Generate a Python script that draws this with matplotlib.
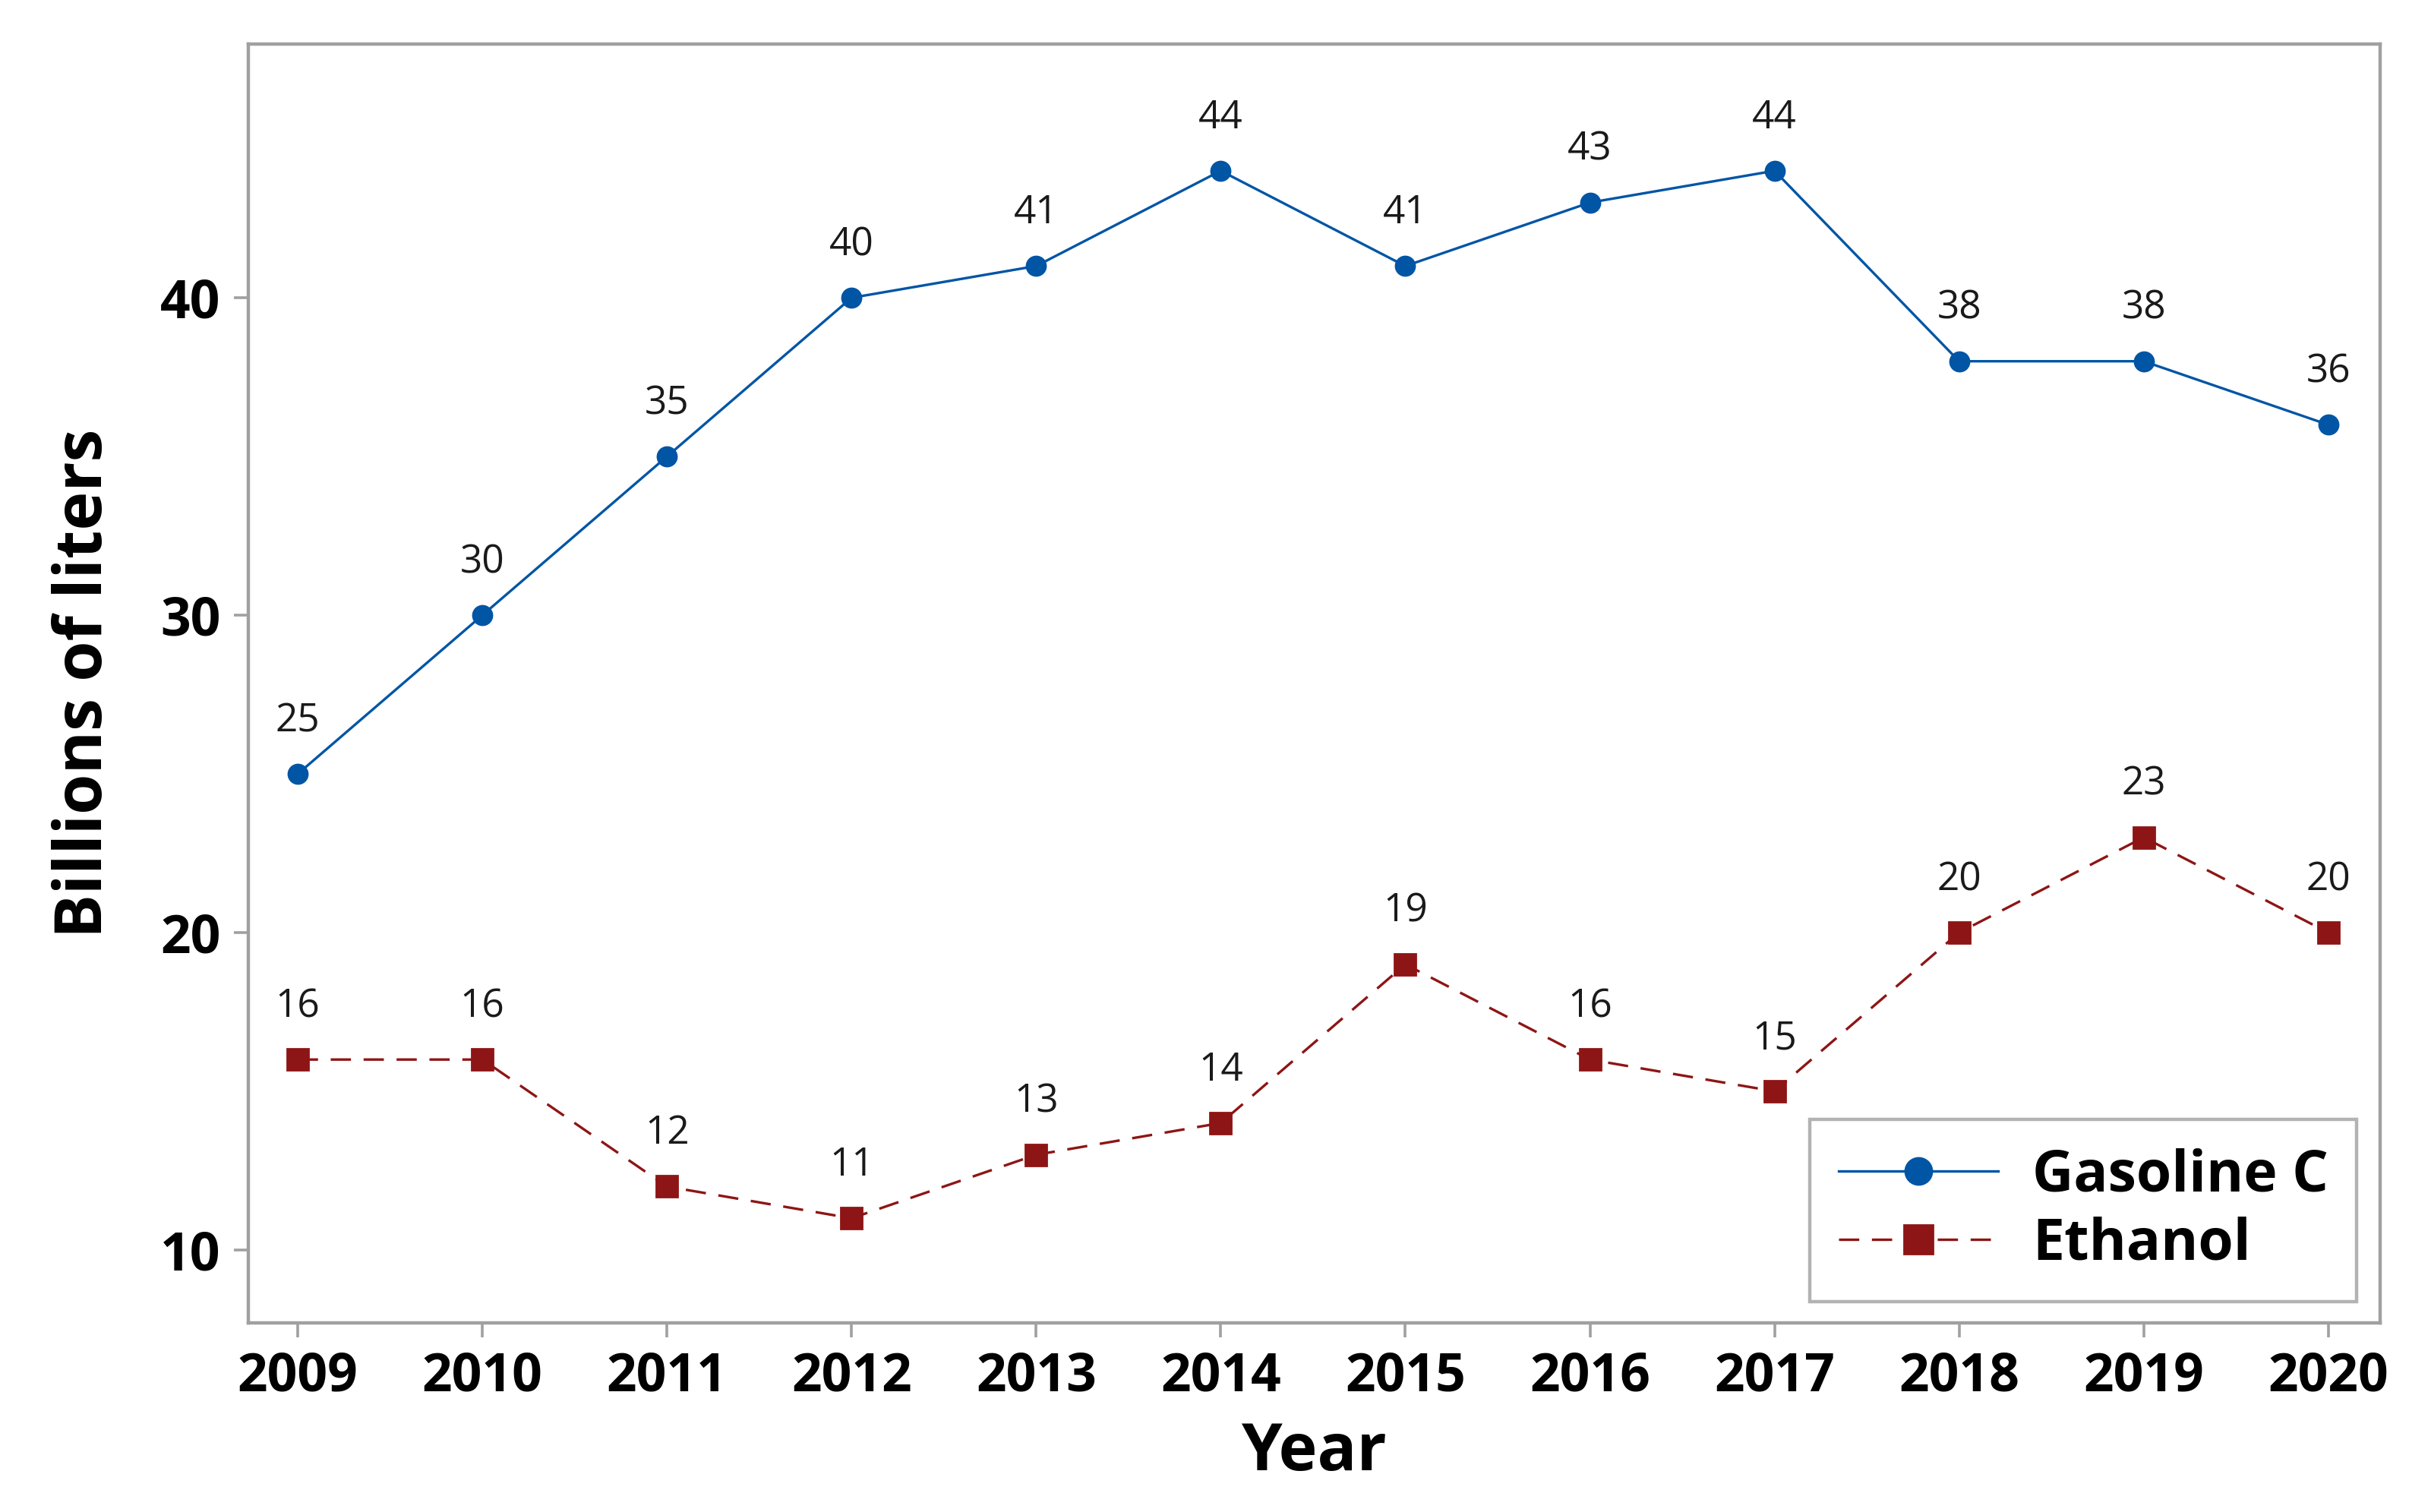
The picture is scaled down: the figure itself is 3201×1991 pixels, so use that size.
import matplotlib
matplotlib.use("Agg")
import matplotlib.pyplot as plt

years = [2009, 2010, 2011, 2012, 2013, 2014, 2015, 2016, 2017, 2018, 2019, 2020]
gasoline = [25, 30, 35, 40, 41, 44, 41, 43, 44, 38, 38, 36]
ethanol = [16, 16, 12, 11, 13, 14, 19, 16, 15, 20, 23, 20]
yticks = [10, 20, 30, 40]

plt.rcParams['font.family'] = ['Open Sans', 'DejaVu Sans']

blue = '#0055A5'
red = '#8E1515'
grey = '#A0A0A0'

fig = plt.figure(figsize=(16.005, 9.955), dpi=200)
ax = fig.add_axes([0.102, 0.125, 0.877, 0.846])

ax.plot(years, gasoline, color=blue, lw=1.2, marker='o', ms=9, label='Gasoline C')
ax.plot(years, ethanol, color=red, lw=1.2, ls=(0, (8, 5)), marker='s', ms=10, label='Ethanol')

for x, y in zip(years, gasoline):
    ax.annotate(str(y), (x, y), xytext=(0, 25), textcoords='offset points',
                ha='center', va='center', fontsize=18.5, color='#1a1a1a')
for x, y in zip(years, ethanol):
    ax.annotate(str(y), (x, y), xytext=(0, 25), textcoords='offset points',
                ha='center', va='center', fontsize=18.5, color='#1a1a1a')

ax.set_xlim(2008.73, 2020.28)
ax.set_ylim(7.7, 48)
ax.set_xticks(years)
ax.set_xticklabels([str(y) for y in years], fontsize=25, fontweight='bold')
ax.set_yticks(yticks)
ax.set_yticklabels([str(v) for v in yticks], fontsize=25, fontweight='bold')

for s in ax.spines.values():
    s.set_color(grey)
    s.set_linewidth(1.6)
ax.tick_params(direction='out', length=7, width=1.3, color=grey, pad=6)

ax.set_xlabel('Year', fontsize=31, fontweight='bold', labelpad=8)
ax.set_ylabel('Billions of liters', fontsize=31, fontweight='bold', labelpad=20)

leg = ax.legend(loc='lower right', bbox_to_anchor=(0.9972, 0.0035), fontsize=27,
                frameon=True, fancybox=False, edgecolor=grey, handlelength=2.8,
                borderpad=0.5, labelspacing=0.2, handletextpad=0.6, markerscale=1.4,
                borderaxespad=0.3)
leg.get_frame().set_linewidth(1.6)
for t in leg.get_texts():
    t.set_fontweight('bold')

fig.savefig('out.png', dpi=200, facecolor='white')
